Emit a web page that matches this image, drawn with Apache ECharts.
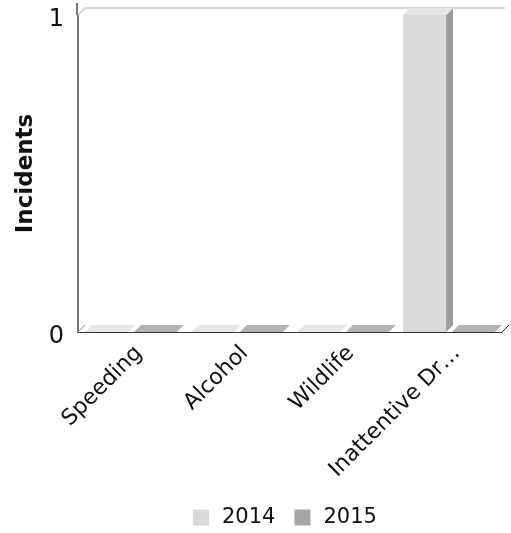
<!DOCTYPE html>
<html><head><meta charset="utf-8">
<script src="https://cdn.jsdelivr.net/npm/echarts@6/dist/echarts.min.js"></script>
<style>html,body{margin:0;padding:0;background:#fff}#c{width:511px;height:533px}</style>
</head><body><div id="c"></div>
<script>
const categories = ['Speeding', 'Alcohol', 'Wildlife', 'Inattentive Driving'];
const seriesNames = ['2014', '2015'];
const values2014 = [0, 0, 0, 1];
const values2015 = [0, 0, 0, 0];
const yTicks = [0, 1];

const FONT = 'DejaVu Sans';
const D = 7; // depth offset
const faces = [
  {front: '#d9d9d9', top: '#e6e6e6', side: '#9c9c9c'},
  {front: '#a6a6a6', top: '#b4b4b4', side: '#7c7c7c'}
];

function barRender(sIdx) {
  return function (params, api) {
    const i = api.value(0), v = api.value(1);
    const top = api.coord([i, v]);
    const base = api.coord([i, 0]);
    const band = api.size([1, 0])[0];
    const bw = band * 0.405;
    const gap = band * 0.055;
    const groupW = 2 * bw + gap;
    const x0 = top[0] - groupW / 2 + sIdx * (bw + gap);
    const x1 = x0 + bw;
    const yt = top[1], yb = base[1];
    const f = faces[sIdx];
    const children = [];
    if (yb - yt > 0.5) {
      children.push({type: 'rect', shape: {x: x0, y: yt, width: bw, height: yb - yt}, style: {fill: f.front}});
      children.push({type: 'polygon', shape: {points: [[x1, yt], [x1 + D, yt - D], [x1 + D, yb - D], [x1, yb]]}, style: {fill: f.side}});
    }
    children.push({type: 'polygon', shape: {points: [[x0, yt], [x0 + D, yt - D], [x1 + D, yt - D], [x1, yt]]}, style: {fill: f.top}});
    return {type: 'group', children: children};
  };
}

function frameRender(params, api) {
  const cs = params.coordSys;
  const xl = cs.x, xr = cs.x + cs.width, yb = cs.y + cs.height;
  const y1 = api.coord([0, yTicks[yTicks.length - 1]])[1];
  return {type: 'group', children: [
    {type: 'line', shape: {x1: xl - 1, y1: y1, x2: xl - 1, y2: y1 - D - 5}, style: {stroke: '#777', lineWidth: 2}},
    {type: 'line', shape: {x1: xl, y1: y1, x2: xl + D, y2: y1 - D}, style: {stroke: '#c8c8c8', lineWidth: 1.5}},
    {type: 'line', shape: {x1: xl + D, y1: y1 - D, x2: xr + 3, y2: y1 - D}, style: {stroke: '#c8c8c8', lineWidth: 1.5}},
    {type: 'line', shape: {x1: xl, y1: yb, x2: xl + D, y2: yb - D}, style: {stroke: '#999', lineWidth: 1}},
    {type: 'line', shape: {x1: xr, y1: yb, x2: xr + D, y2: yb - D}, style: {stroke: '#333', lineWidth: 1}}
  ]};
}

const chart = echarts.init(document.getElementById('c'), null, {renderer: 'canvas'});
chart.setOption({
  animation: false,
  grid: {left: 78, right: 9, top: 15, bottom: 201, containLabel: false},
  legend: {
    data: seriesNames,
    left: 188, top: 502,
    icon: 'rect', itemWidth: 16, itemHeight: 16, itemGap: 19,
    textStyle: {fontFamily: FONT, fontSize: 21, color: '#111', padding: [0, 0, 0, 8]}
  },
  xAxis: {
    type: 'category', data: categories,
    axisLine: {show: true, lineStyle: {color: '#333', width: 1}},
    axisTick: {show: false},
    axisLabel: {
      rotate: 45, margin: 10, interval: 0, verticalAlign: 'top',
      fontFamily: FONT, fontSize: 22, color: '#111',
      formatter: v => v.length > 16 ? v.slice(0, 14) + '…' : v
    },
    splitLine: {show: false}
  },
  yAxis: {
    type: 'value', min: yTicks[0], max: yTicks[yTicks.length - 1], interval: 1,
    name: 'Incidents', nameLocation: 'middle', nameGap: 38, nameRotate: 90,
    nameTextStyle: {fontFamily: FONT, fontSize: 23, fontWeight: 'bold', color: '#111'},
    axisLine: {show: true, lineStyle: {color: '#777', width: 2}},
    axisTick: {show: false},
    axisLabel: {
      margin: 14, color: '#111',
      formatter: v => '{n|' + v + '}',
      rich: {n: {fontFamily: FONT, fontSize: 24, color: '#111', padding: [10, 0, 0, 0]}}
    },
    splitLine: {show: false}
  },
  series: [
    {type: 'custom', name: 'frame', silent: true, clip: false, renderItem: frameRender, data: [[0, 0]], encode: {x: 0, y: 1}, z: 1},
    {type: 'custom', name: seriesNames[0], clip: false, renderItem: barRender(0), itemStyle: {color: '#d9d9d9'},
     data: values2014.map((v, i) => [i, v]), encode: {x: 0, y: 1}, z: 2},
    {type: 'custom', name: seriesNames[1], clip: false, renderItem: barRender(1), itemStyle: {color: '#a6a6a6'},
     data: values2015.map((v, i) => [i, v]), encode: {x: 0, y: 1}, z: 2}
  ]
});
</script></body></html>
